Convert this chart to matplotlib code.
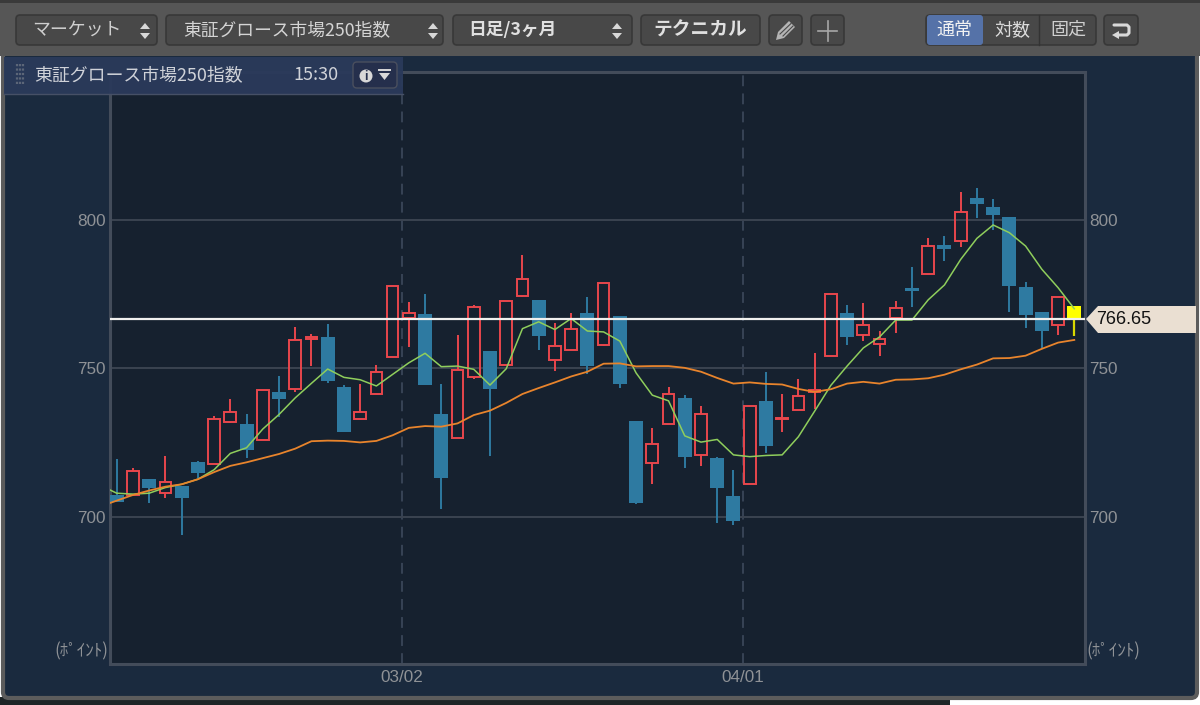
import matplotlib
matplotlib.use('Agg')
import matplotlib.pyplot as plt
from matplotlib.patches import FancyBboxPatch, Polygon, Rectangle, Circle

plt.rcParams['font.family'] = ['Noto Sans CJK JP', 'DejaVu Sans']

# candles
opens = [707.4, 707.5, 712.7, 708.0, 710.5, 718.4, 717.9, 732.1, 731.3, 726.0,
         742.2, 743.2, 759.9, 760.7, 743.7, 733.0, 741.3, 754.0, 767.1, 768.4,
         734.6, 726.6, 747.0, 756.0, 751.0, 774.3, 773.1, 752.8, 756.3, 768.7,
         757.8, 767.5, 732.3, 718.2, 731.4, 740.2, 720.7, 719.8, 707.1, 711.0,
         739.1, 732.9, 736.0, 742.0, 754.3, 768.7, 761.3, 758.3, 767.0, 777.0,
         781.9, 791.7, 792.8, 807.5, 804.3, 801.1, 777.3, 769.1, 764.5, 767.0]
closes = [705.1, 715.4, 709.8, 711.8, 706.4, 714.8, 733.0, 735.5, 722.4, 742.6,
          739.8, 759.5, 760.7, 745.8, 728.7, 735.5, 748.9, 777.7, 768.6, 744.3,
          713.0, 749.4, 770.8, 743.0, 772.6, 780.0, 761.0, 757.7, 763.2, 750.7,
          778.8, 744.8, 704.8, 724.5, 741.3, 720.2, 734.5, 709.7, 698.8, 737.3,
          723.8, 733.4, 740.7, 742.9, 775.2, 760.6, 764.7, 759.9, 770.3, 776.1,
          791.1, 790.3, 802.6, 805.5, 801.7, 777.9, 767.9, 762.6, 774.2, 771.0]
highs = [719.5, 716.4, 712.7, 720.4, 710.5, 718.9, 734.1, 739.8, 734.5, 742.6,
         747.4, 764.0, 761.7, 764.9, 744.4, 744.8, 751.2, 777.7, 772.5, 775.2,
         744.8, 761.1, 771.5, 756.0, 772.6, 788.2, 773.1, 765.2, 768.5, 774.2,
         778.8, 767.5, 732.3, 729.8, 743.8, 741.1, 737.5, 720.2, 715.9, 737.3,
         748.9, 741.3, 746.4, 755.1, 775.2, 771.3, 772.2, 762.6, 772.8, 784.3,
         793.8, 794.6, 809.3, 810.9, 806.9, 801.1, 779.2, 769.1, 774.2, 771.0]
lows = [705.1, 707.5, 704.8, 706.3, 694.0, 713.0, 717.9, 731.8, 720.0, 726.0,
        733.6, 742.0, 750.8, 745.0, 728.7, 733.0, 741.3, 754.0, 757.2, 744.3,
        702.8, 726.6, 746.3, 720.6, 751.0, 773.9, 756.2, 749.3, 756.3, 748.0,
        757.4, 743.5, 704.2, 711.1, 731.4, 716.4, 717.0, 697.9, 697.3, 711.0,
        721.5, 728.5, 736.0, 736.2, 754.3, 757.9, 759.2, 754.2, 761.8, 770.7,
        781.9, 786.2, 791.0, 800.8, 796.5, 769.1, 763.6, 756.9, 761.2, 760.9]

# moving averages, first value sits on the left edge of the plot
ma_short = [709.1, 708.0, 707.7, 708.0, 709.9, 711.0, 712.7, 715.9, 721.4, 723.3,
            729.6, 734.5, 740.1, 745.0, 749.8, 747.0, 746.2, 744.1, 748.0, 751.9,
            755.1, 750.6, 750.8, 749.7, 744.4, 749.9, 763.4, 765.7, 763.1, 766.8,
            762.6, 762.3, 759.2, 748.5, 741.0, 739.1, 727.3, 725.2, 726.1, 720.9,
            720.3, 720.7, 720.9, 727.0, 735.6, 744.3, 750.8, 756.9, 760.6, 766.3,
            766.3, 773.1, 778.1, 786.7, 793.8, 798.3, 795.7, 791.2, 783.4, 777.2, 770.1]
ma_long = [704.7, 705.5, 707.4, 708.9, 710.2, 711.0, 712.7, 715.1, 717.2, 718.4,
           719.8, 721.2, 723.0, 725.5, 725.7, 725.6, 725.1, 725.6, 727.5, 730.0,
           730.6, 730.4, 731.5, 734.3, 735.8, 738.4, 741.4, 743.4, 745.3, 747.3,
           748.9, 751.6, 751.7, 750.7, 750.8, 750.8, 750.2, 748.9, 746.8, 744.9,
           745.3, 744.8, 744.6, 743.1, 742.1, 743.0, 744.9, 745.5, 744.9, 746.2,
           746.3, 746.7, 747.9, 749.7, 751.3, 753.4, 753.5, 754.3, 756.6, 758.7, 759.6]

last_price = 766.65
y_ticks = [700, 750, 800]
date_pos = [17.58, 38.59]
date_labels = ['03/02', '04/01']

W, H = 1200, 705
GREY = '#8f9296'
RED = '#e8474c'
BLUE = '#2e7aa1'
YELLOW = '#ffff00'

fig = plt.figure(figsize=(W / 100, H / 100), dpi=100, facecolor='#ffffff')

# background layer in pixel coordinates
bg = fig.add_axes([0, 0, 1, 1], zorder=0)
bg.set_xlim(0, W)
bg.set_ylim(H, 0)
bg.axis('off')
bg.add_patch(Rectangle((0, 697), 950, 8, fc='#1e2426', ec='none'))
bg.add_patch(FancyBboxPatch((3, 40), W - 6, 658, boxstyle='round,pad=0,rounding_size=6', fc='#1a2a3e', ec='#5c5c5c', lw=3))
bg.add_patch(Rectangle((0, 0), W, 56, fc='#565656', ec='none'))
bg.add_patch(Rectangle((0, 0), W, 3, fc='#3a3a3a', ec='none'))


def button(x0, x1, fc='#484848'):
    bg.add_patch(FancyBboxPatch((x0, 15), x1 - x0, 30, boxstyle='round,pad=0,rounding_size=4', fc=fc, ec='#383838', lw=1.2))


def updown(x):
    bg.add_patch(Polygon([(x - 5, 29), (x + 5, 29), (x, 23)], fc='#d8d8d8', ec='none'))
    bg.add_patch(Polygon([(x - 5, 33), (x + 5, 33), (x, 39)], fc='#d8d8d8', ec='none'))


for x0, x1 in [(16, 157), (166, 443), (453, 632), (641, 760), (769, 802), (811, 844), (1104, 1138)]:
    button(x0, x1)
for x in [145, 433, 617]:
    updown(x)

bg.text(76.5, 30, 'マーケット', color='#cfcfcf', fontsize=12.9, ha='center', va='center')
bg.text(286.5, 30, '東証グロース市場250指数', color='#d4d4d4', fontsize=12.8, ha='center', va='center')
bg.text(512.5, 30, '日足/3ヶ月', color='#e0e0e0', fontsize=12.8, fontweight='bold', ha='center', va='center')
bg.text(700, 30, 'テクニカル', color='#e0e0e0', fontsize=13.5, fontweight='bold', ha='center', va='center')

# pencil and plus
bg.add_patch(Polygon([(776, 40), (778, 32), (789, 21), (795, 27), (784, 38)], fc='#b4b4b4', ec='none'))
bg.plot([780, 791], [34, 23.5], color='#484848', lw=0.8)
bg.plot([783, 793], [36, 26], color='#484848', lw=0.8)
bg.plot([818, 837], [31, 31], color='#a8a8a8', lw=1.2)
bg.plot([827.5, 827.5], [21, 41], color='#a8a8a8', lw=1.2)

# scale switch
bg.add_patch(FancyBboxPatch((926, 15), 170, 30, boxstyle='round,pad=0,rounding_size=4', fc='#484848', ec='#383838', lw=1.2))
bg.add_patch(FancyBboxPatch((927, 15), 56, 30, boxstyle='round,pad=0,rounding_size=3', fc='#5572a8', ec='none'))
bg.plot([1039, 1039], [15, 45], color='#333333', lw=1)
bg.text(954.5, 30, '通常', color='#f2f2f2', fontsize=13, ha='center', va='center')
bg.text(1012, 30, '対数', color='#dcdcdc', fontsize=13, ha='center', va='center')
bg.text(1068, 30, '固定', color='#d0d0d0', fontsize=13, ha='center', va='center')

# return arrow
bg.plot([1114, 1127, 1129, 1129, 1127, 1118], [25, 25, 27, 33, 35, 35], color='#d8d8d8', lw=2.2, solid_capstyle='round')
bg.add_patch(Polygon([(1112, 35), (1119, 31), (1119, 39)], fc='#d8d8d8', ec='none'))

# chart
ax = fig.add_axes([110 / W, 1 - 664 / H, 975 / W, 592 / H], zorder=1, facecolor='#16212f')
ax.set_xlim(-0.413, 59.66)
ax.set_ylim(650.5, 849.8)
for s in ax.spines.values():
    s.set_color('#434c5a')
    s.set_linewidth(2.2)
ax.set_yticks(y_ticks)
ax.set_xticks(date_pos)
ax.set_xticklabels(date_labels, color=GREY, fontsize=12.3, family='Liberation Sans')
ax.tick_params(axis='x', length=0, pad=4)
ax.tick_params(axis='y', length=0, pad=3, labelcolor=GREY, labelsize=12.3, labelright=True, labelleft=True)
for lab in ax.get_yticklabels():
    lab.set_family('Liberation Sans')
ax.grid(axis='y', color='#3a4350', lw=1.4)
ax.grid(axis='x', color='#3a4658', lw=1.3, ls=(0, (6, 4)))
ax.set_axisbelow(True)

for i in range(60):
    top = max(opens[i], closes[i])
    bot = min(opens[i], closes[i])
    if i == 59:
        ax.bar(i, top - bot, bottom=bot, width=0.86, color=YELLOW, zorder=3)
        ax.vlines(i, lows[i], bot, color='#d8d800', lw=1.6, zorder=3)
    elif closes[i] >= opens[i]:
        ax.bar(i, top - bot, bottom=bot, width=0.72, color='none', edgecolor=RED, lw=1.4, zorder=3)
        ax.vlines(i, top, highs[i], color=RED, lw=1.4, zorder=3)
        ax.vlines(i, lows[i], bot, color=RED, lw=1.4, zorder=3)
    else:
        ax.vlines(i, lows[i], highs[i], color=BLUE, lw=1.4, zorder=3)
        ax.bar(i, top - bot, bottom=bot, width=0.86, color=BLUE, zorder=3)

xs = [-0.413] + list(range(60))
ax.plot(xs, ma_short, color='#8fce5c', lw=1.1, zorder=4)
ax.plot(xs, ma_long, color='#e8842c', lw=1.3, zorder=4)
ax.axhline(last_price, color='#f0f0ee', lw=1.6, zorder=5)

# overlay: title strip, price tag, unit labels
top = fig.add_axes([0, 0, 1, 1], zorder=2)
top.set_xlim(0, W)
top.set_ylim(H, 0)
top.axis('off')
top.patch.set_alpha(0)
top.add_patch(Rectangle((4, 57), 399, 38, fc='#2a3a5a', ec='none', alpha=0.96))
top.plot([4, 403], [94, 94], color='#465066', lw=1)
for dx in [17, 20, 23]:
    top.plot([dx, dx], [64, 86], color='#5c6678', lw=1.6, ls=(0, (1, 1)))
top.text(139, 75, '東証グロース市場250指数', color='#cfd2d8', fontsize=12.9, ha='center', va='center')
top.text(316, 75, '15:30', color='#cfd2d8', fontsize=13, ha='center', va='center')
top.add_patch(FancyBboxPatch((353, 62), 44, 26, boxstyle='round,pad=0,rounding_size=4', fc='#252f4c', ec='#4a4f5e', lw=1))
top.add_patch(Circle((366, 76), 6.5, fc='#d8d8d8', ec='none'))
top.text(366, 76, 'i', color='#252f4c', fontsize=8.5, fontweight='bold', ha='center', va='center')
top.plot([379, 390], [69.5, 69.5], color='#d8d8d8', lw=1.4)
top.add_patch(Polygon([(379, 73), (390, 73), (384.5, 80)], fc='#d8d8d8', ec='none'))

top.add_patch(Polygon([(1086, 319), (1098, 306), (1196, 306), (1196, 333), (1098, 333)], fc='#eadfd2', ec='none'))
top.text(1096, 319.5, f'{last_price:.2f}', color='#111111', fontsize=13, ha='left', va='center', family='Liberation Sans')
top.text(81, 651, '(ﾎﾟｲﾝﾄ)', color=GREY, fontsize=12.3, ha='center', va='center')
top.text(1113, 651, '(ﾎﾟｲﾝﾄ)', color=GREY, fontsize=12.3, ha='center', va='center')

fig.savefig('out.png', dpi=100)
